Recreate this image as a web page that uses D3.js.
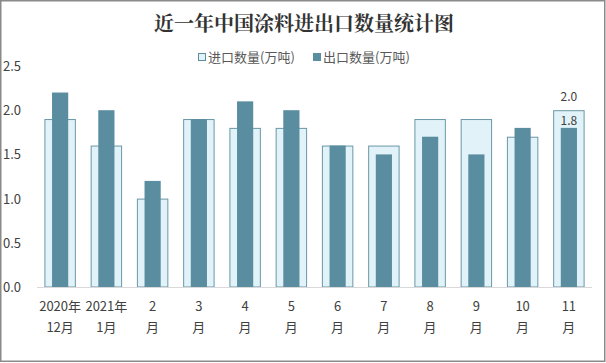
<!DOCTYPE html>
<html><head><meta charset="utf-8">
<script src="https://cdn.jsdelivr.net/npm/d3@7"></script>
<style>
html,body{margin:0;padding:0;background:#fff;}
svg{display:block;}
</style></head>
<body><svg id="c" width="606" height="363"></svg>
<script>
const categoriesLine1 = ["2020年","2021年","2","3","4","5","6","7","8","9","10","11"];
const categoriesLine2 = ["12月","1月","月","月","月","月","月","月","月","月","月","月"];
const importValues = [1.9,1.6,1.0,1.9,1.8,1.8,1.6,1.6,1.9,1.9,1.7,2.0];
const exportValues = [2.2,2.0,1.2,1.9,2.1,2.0,1.6,1.5,1.7,1.5,1.8,1.8];
const yTicks = [0,0.5,1.0,1.5,2.0,2.5];
const seriesNames = ["进口数量(万吨)","出口数量(万吨)"];
const title = "近一年中国涂料进出口数量统计图";
const labeledIndex = [11];

const svg = d3.select("#c");
const W=606,H=363;
const font = "'Noto Sans CJK SC','Noto Sans',sans-serif";
svg.append("rect").attr("x",0.75).attr("y",0.75).attr("width",W-2).attr("height",H-2.5)
  .attr("fill","#fff").attr("stroke","#8a8a8a").attr("stroke-width",1.5);

const x = d3.scaleBand().domain(d3.range(categoriesLine1.length)).range([37,592]).padding(0);
const y = d3.scaleLinear().domain([0,2.5]).range([287,66]);

svg.append("text").attr("x",304).attr("y",31).attr("text-anchor","middle")
  .attr("font-family","'Noto Serif CJK SC','Noto Sans CJK SC',serif").attr("font-weight","bold")
  .attr("font-size",20).attr("fill","#333").text(title);

// legend
const lg = svg.append("g").attr("font-family",font).attr("font-size",13).attr("fill","#595959");
lg.append("rect").attr("x",198.5).attr("y",53.5).attr("width",7).attr("height",7).attr("fill","#e1f3f9").attr("stroke","#5e8c9c");
lg.append("text").attr("x",208).attr("y",62).text(seriesNames[0]);
lg.append("rect").attr("x",313).attr("y",53).attr("width",8).attr("height",8).attr("fill","#5b8da1");
lg.append("text").attr("x",323).attr("y",62).text(seriesNames[1]);

// y axis labels
const ya = svg.append("g").call(d3.axisLeft(y).tickValues(yTicks).tickFormat(d3.format(".1f")).tickSize(0));
ya.select(".domain").remove();
ya.selectAll("text").attr("x",3).attr("text-anchor","start").attr("font-family",font).attr("font-size",13).attr("fill","#404040").attr("dy","0.35em");

const bw = x.bandwidth()*0.68, ew = x.bandwidth()*0.35;
svg.append("g").selectAll("rect").data(importValues).join("rect")
  .attr("x",(d,i)=>x(i)+(x.bandwidth()-bw)/2+0.5).attr("width",bw-1)
  .attr("y",d=>y(d)+0.5).attr("height",d=>y(0)-y(d)-0.5)
  .attr("fill","#e1f3f9").attr("stroke","#6a97a6").attr("stroke-width",1);
svg.append("g").selectAll("rect").data(exportValues).join("rect")
  .attr("x",(d,i)=>x(i)+(x.bandwidth()-ew)/2).attr("width",ew)
  .attr("y",d=>y(d)).attr("height",d=>y(0)-y(d))
  .attr("fill","#5b8da1");

// baseline
svg.append("line").attr("x1",37).attr("x2",592).attr("y1",y(0)+0.5).attr("y2",y(0)+0.5).attr("stroke","#d9d9d9");

// value labels
const vl = svg.append("g").attr("font-family",font).attr("font-size",12).attr("fill","#404040").attr("text-anchor","middle");
labeledIndex.forEach(i=>{
  vl.append("text").attr("x",x(i)+x.bandwidth()/2).attr("y",y(importValues[i])-9).text(importValues[i].toFixed(1));
  vl.append("text").attr("x",x(i)+x.bandwidth()/2).attr("y",y(exportValues[i])-3).text(exportValues[i].toFixed(1));
});

// x labels
const xl = svg.append("g").attr("font-family",font).attr("font-size",13).attr("fill","#404040").attr("text-anchor","middle");
categoriesLine1.forEach((c,i)=>{
  const cx = x(i)+x.bandwidth()/2;
  xl.append("text").attr("x",cx).attr("y",311).text(c);
  xl.append("text").attr("x",cx).attr("y",332).text(categoriesLine2[i]);
});
</script></body></html>
